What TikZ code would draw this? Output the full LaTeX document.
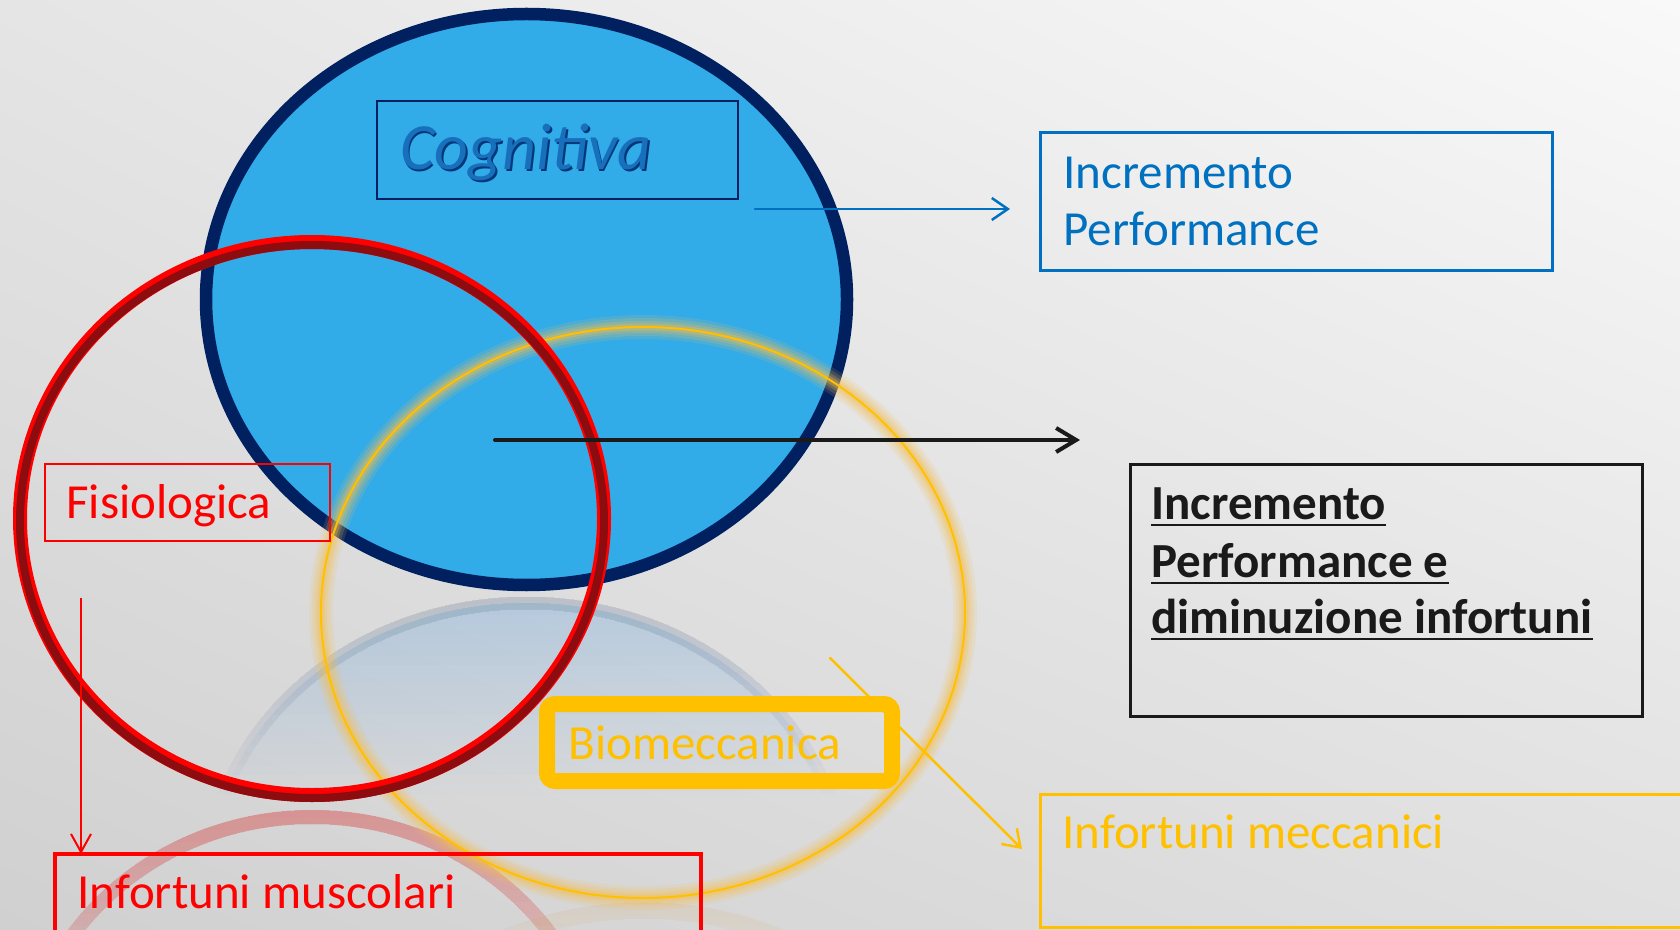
\documentclass[tikz,border=0pt]{standalone}
\usepackage{fontspec}
\setmainfont{Carlito}
\usetikzlibrary{arrows.meta,shadings}

\definecolor{bgTL}{RGB}{229,229,229}
\definecolor{bgTR}{RGB}{249,249,249}
\definecolor{bgBL}{RGB}{208,208,208}
\definecolor{bgBR}{RGB}{224,224,224}
\definecolor{cogfill}{RGB}{50,171,233}
\definecolor{cognavy}{RGB}{0,32,96}
\definecolor{cogtext}{RGB}{24,112,188}
\definecolor{cogshadow}{RGB}{0,55,120}
\definecolor{perfblue}{RGB}{0,112,192}
\definecolor{gold}{RGB}{255,192,0}
\definecolor{glow}{RGB}{245,192,80}
\definecolor{ringred}{RGB}{255,0,0}
\definecolor{ringdark}{RGB}{140,12,16}
\definecolor{inkblack}{RGB}{26,26,26}
\definecolor{reflring}{RGB}{110,120,150}
\definecolor{reflfill}{RGB}{80,190,240}

\begin{document}
\begin{tikzpicture}[x=0.5pt, y=-0.5pt,
  label/.style={anchor=base west, inner sep=0pt, font=\fontsize{24.5}{28}\selectfont},
  boldlabel/.style={label, font=\fontsize{24.5}{28}\selectfont\bfseries, text=inkblack},
  framebox/.style={anchor=north west, inner sep=0pt, outer sep=0pt, fill=none},
  cogfont/.style={anchor=base west, inner sep=0pt, font=\fontsize{33}{38}\selectfont\itshape},
  link/.style={line cap=round}]

\useasboundingbox (0,0) rectangle (1680,930);
\clip (0,0) rectangle (1680,930);

% slide background
\shade[upper left=bgTL, upper right=bgTR, lower left=bgBL, lower right=bgBR]
  (0,0) rectangle (1680,930);

% mirrored reflections under the rings: stacked faint layers, each reaching
% a little less far down, so they fade out towards the bottom
\foreach \k in {1,...,20}{
  \begin{scope}
    \clip (0,594) rectangle (1680,{594+10*\k});
    \fill[reflfill, opacity=0.012] (526.5,888.5) ellipse [x radius=320.5, y radius=285.5];
    \draw[reflring, line width=6.25pt, opacity=0.012] (526.5,888.5) ellipse [x radius=320.5, y radius=285.5];
  \end{scope}
}
\foreach \k in {1,...,20}{
  \begin{scope}
    \clip (0,805) rectangle (1680,{805+12*\k});
    \draw[ringred, line width=7pt, opacity=0.014] (312,1093.5) ellipse [x radius=292, y radius=276.5];
  \end{scope}
}
\foreach \k in {1,...,8}{
  \begin{scope}
    \clip (0,895) rectangle (1680,{895+10*\k});
    \draw[glow, line width=8pt, opacity=0.015] (643,1196) ellipse [x radius=322, y radius=285.5];
  \end{scope}
}

% cognitive ring
\draw[cognavy, line width=6.25pt, fill=cogfill]
  (526.5,299.5) ellipse [x radius=320.5, y radius=285.5];

% biomechanical ring with soft glow
\foreach \w/\o in {12/0.14, 9/0.18, 6/0.24, 3.5/0.32}
  \draw[glow, line width=\w pt, opacity=\o] (643,612.5) ellipse [x radius=322, y radius=285.5];
\draw[gold, line width=1pt] (643,612.5) ellipse [x radius=322, y radius=285.5];

% physiological ring: bright rim over a dark band
\draw[ringred, line width=7pt] (312,518.5) ellipse [x radius=292, y radius=276.5];
\draw[ringdark, line width=4pt] (312,521.5) ellipse [x radius=292, y radius=276.5];

% boxes
\node[framebox, draw=cognavy, line width=0.75pt, minimum width=180.5pt, minimum height=49pt]
  (cogbox) at (377,101) {};
\node[framebox, draw=perfblue, line width=1.5pt, minimum width=256pt, minimum height=69pt]
  (incbox) at (1040,133) {};
\node[framebox, draw=inkblack, line width=1.5pt, minimum width=256pt, minimum height=126pt]
  (perfbox) at (1130,464) {};
\node[framebox, draw=ringred, line width=0.75pt, minimum width=142.5pt, minimum height=38.5pt]
  (fisbox) at (45,464) {};
\node[framebox, draw=ringred, line width=1.75pt, minimum width=323pt, minimum height=50pt]
  (musbox) at (55,854) {};
\node[framebox, draw=gold, line width=8pt, rounded corners=4pt, minimum width=172.5pt, minimum height=38.5pt]
  (biobox) at (547,704) {};
\node[framebox, draw=gold, line width=1.5pt, minimum width=330pt, minimum height=66.5pt]
  (mecbox) at (1040,794) {};

% texts
\node[cogfont, text=cogshadow] (cogshade) at (401.5,171.5) {Cognitiva};
\node[cogfont, text=cogtext] (cogtxt) at (400,170) {Cognitiva};

\node[label, text=perfblue] (inc1) at (1063,189) {Incremento};
\node[label, text=perfblue] (inc2) at (1063,246) {Performance};

\node[boldlabel] (perf1) at (1151,519) {Incremento};
\node[boldlabel] (perf2) at (1151,577) {Performance e};
\node[boldlabel] (perf3) at (1151,633) {diminuzione infortuni};
\foreach \n in {perf1,perf2,perf3}
  \draw[inkblack, line width=1pt] ([yshift=-2.8pt]\n.base west) -- ([yshift=-2.8pt]\n.base east);

\node[label, text=ringred] (fistxt) at (66,518) {Fisiologica};
\node[label, text=ringred] (mustxt) at (77,908) {Infortuni muscolari};
\node[label, text=gold] (biotxt) at (568,759) {Biomeccanica};
\node[label, text=gold] (mectxt) at (1062,848) {Infortuni meccanici};

% connectors
\coordinate (cogfrom) at (755,209);
\coordinate (perffrom) at (495,440);
\coordinate (fisfrom) at (81,598);
\coordinate (biofrom) at (830,658);
\coordinate (bioto) at (1022,849);

\draw[link, perfblue, line width=1.25pt, -{Straight Barb[length=8pt,width=11pt]}, shorten >=15pt]
  (cogfrom) -- (cogfrom -| incbox.west);
\draw[link, inkblack, line width=2pt, -{Straight Barb[length=10pt,width=12pt]}, shorten >=25pt]
  (perffrom) -- (perffrom -| perfbox.west);
\draw[ringred, line width=1pt, -{Straight Barb[length=9pt,width=10pt]}]
  (fisfrom) -- (fisfrom |- musbox.north);
\draw[link, gold, line width=1.25pt, -{Straight Barb[length=8pt,width=11pt]}]
  (biofrom) -- (bioto);

\end{tikzpicture}
\end{document}
